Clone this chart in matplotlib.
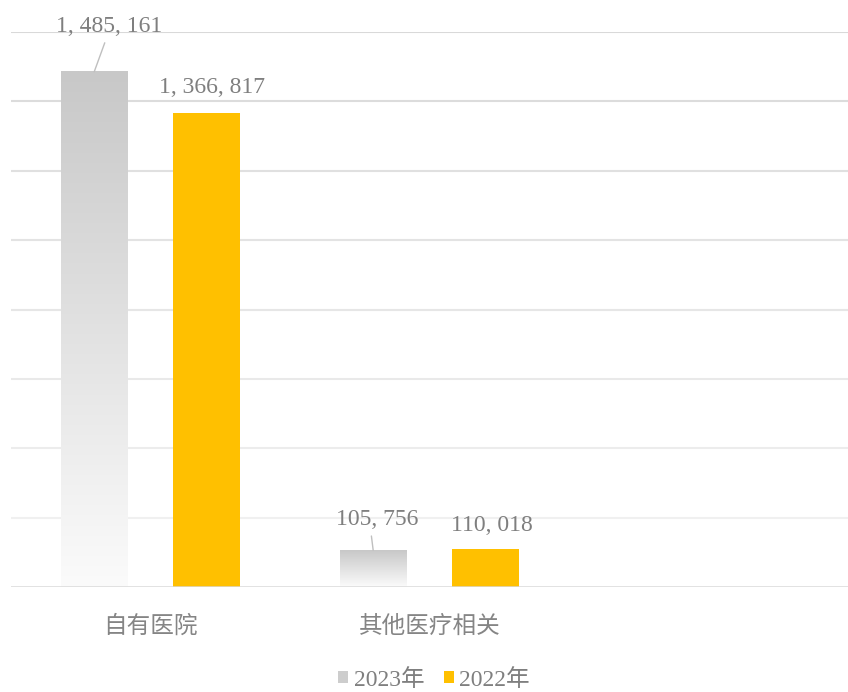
import numpy as np
import matplotlib
matplotlib.use("Agg")
import matplotlib.pyplot as plt
from matplotlib.colors import LinearSegmentedColormap, to_rgb
from matplotlib.patches import Patch

categories = ["自有医院", "其他医疗相关", ""]
series_names = ["2023年", "2022年"]
v2023 = [1485161, 105756]
v2022 = [1366817, 110018]

# label offsets in points (dx, dy above the bar top), leader line tip for 2023
lab2023_off = [(11, 28.8), (3.2, 18)]
lead2023_tip = [(7.6, 20.9), (-1.3, 10.3)]
lab2022_off = [(3.6, 14.4), (4.3, 13)]

GRAY_TXT = "#7f7f7f"
ORANGE = "#FFC000"
SERIF = ["Liberation Serif", "Noto Sans CJK SC"]

plt.rcParams["font.family"] = SERIF

fig = plt.figure(figsize=(8.48, 6.92), dpi=100)
ax = fig.add_axes([11 / 848, 105 / 692, 837 / 848, 555 / 692])

x = np.arange(len(v2023))
off = 0.2018
width = 0.24

# fading horizontal grid
ticks = np.arange(200000, 1600001, 200000)
top_c, bot_c = np.array(to_rgb("#d9d9d9")), np.array(to_rgb("#f3f3f3"))
for t in ticks:
    f = t / ticks.max()
    ax.axhline(t, color=bot_c + (top_c - bot_c) * f, lw=1.5, zorder=1)
ax.axhline(0, color="#d9d9d9", lw=1.8, zorder=4)

# 2023 bars with vertical gray gradient
grad = np.linspace(0, 1, 256).reshape(-1, 1)
gcmap = LinearSegmentedColormap.from_list("g", ["#fbfbfb", "#c8c8c8"])
bars = ax.bar(x - off, v2023, width, color="none", edgecolor="none", zorder=3)
for b in bars:
    x0, y0, w, h = b.get_x(), b.get_y(), b.get_width(), b.get_height()
    ax.imshow(grad, extent=[x0, x0 + w, y0, y0 + h], origin="lower",
              aspect="auto", cmap=gcmap, zorder=3)

bars22 = ax.bar(x + off, v2022, width, color=ORANGE, zorder=3)

def fmt(v):
    return f"{v:,}".replace(",", ", ")

for i, v in enumerate(v2023):
    ax.annotate(fmt(v), xy=(x[i] - off, v), xytext=lab2023_off[i],
                textcoords="offset points", ha="center", va="baseline",
                fontsize=17, color=GRAY_TXT)
    ax.annotate("", xy=(x[i] - off, v), xytext=lead2023_tip[i],
                textcoords="offset points",
                arrowprops=dict(arrowstyle="-", color="#bfbfbf", lw=1,
                                shrinkA=0, shrinkB=0))
for i, v in enumerate(v2022):
    ax.annotate(fmt(v), xy=(x[i] + off, v), xytext=lab2022_off[i],
                textcoords="offset points", ha="center", va="baseline",
                fontsize=17, color=GRAY_TXT)

ax.set_xlim(-0.5, 2.5)
ax.set_ylim(0, 1600000)
ax.set_xticks(np.arange(len(categories)))
ax.set_xticklabels(categories, family="Noto Sans CJK SC", fontsize=17,
                   color="#858585")
ax.tick_params(axis="x", length=0, pad=20)
ax.set_yticks([])
for s in ax.spines.values():
    s.set_visible(False)

handles = [Patch(facecolor="#cdcdcd", edgecolor="none"),
           Patch(facecolor=ORANGE, edgecolor="none")]
fig.legend(handles, series_names, loc="center", bbox_to_anchor=(0.512, 0.018),
           ncol=2, frameon=False, prop=dict(family=SERIF, size=17),
           labelcolor=GRAY_TXT, handlelength=0.42, handleheight=0.42,
           handletextpad=0.25, columnspacing=0.8, borderpad=0)

fig.savefig("out.png", dpi=100)
